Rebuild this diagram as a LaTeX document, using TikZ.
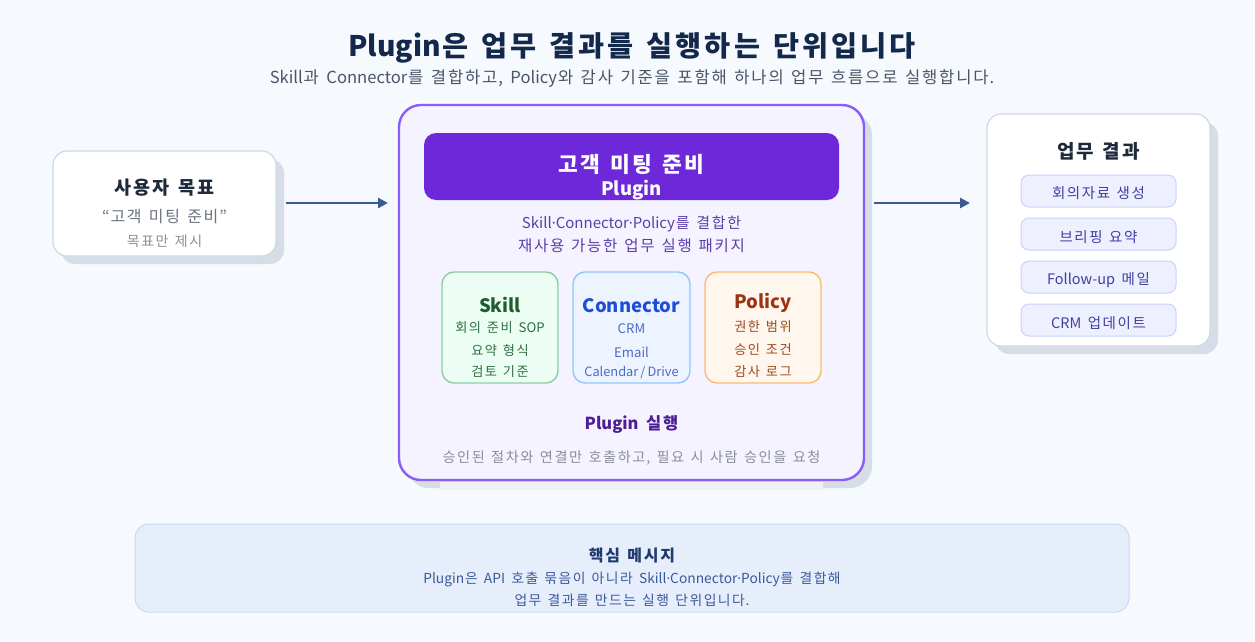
\documentclass[tikz,border=0pt]{standalone}
\usepackage{fontspec}
\setmainfont[WordSpace=2]{Noto Sans CJK KR}
\newfontfamily\latf{Noto Sans}
\newcommand\mdot{{\latf ·}}
% widen Hangul syllables slightly (reference font has wider Hangul)
\XeTeXinterchartokenstate=1
\newXeTeXintercharclass\hgcls
\count255="AC00
\loop
  \XeTeXcharclass\count255=\hgcls
  \ifnum\count255<"D7A3 \advance\count255 by 1
\repeat
\XeTeXinterchartoks\hgcls\hgcls={\kern0.11em}
\XeTeXinterchartoks\hgcls 0={\kern0.055em}
\XeTeXinterchartoks 0\hgcls={\kern0.055em}
\usetikzlibrary{arrows.meta}
\definecolor{bg}{HTML}{F6F9FE}
\definecolor{navy}{HTML}{13294B}
\definecolor{subgray}{HTML}{4A5568}
\definecolor{cardborder}{HTML}{D0D8E4}
\definecolor{shadowc}{HTML}{D6DDE7}
\definecolor{arrowc}{HTML}{3B5A8F}
\definecolor{purplefill}{HTML}{F5F3FF}
\definecolor{purpleborder}{HTML}{8B5CF6}
\definecolor{headerfill}{HTML}{6D28D9}
\definecolor{purpletext}{HTML}{5B3FA8}
\definecolor{darkpurple}{HTML}{4C1D95}
\definecolor{skillfill}{HTML}{ECFDF3}
\definecolor{skillborder}{HTML}{8ACFA2}
\definecolor{skilltitle}{HTML}{1F5E2E}
\definecolor{skilltext}{HTML}{2F6F42}
\definecolor{connfill}{HTML}{EEF4FF}
\definecolor{connborder}{HTML}{93C5FD}
\definecolor{conntitle}{HTML}{1D4ED8}
\definecolor{conntext}{HTML}{4B6BC9}
\definecolor{polfill}{HTML}{FFF7ED}
\definecolor{polborder}{HTML}{FDBA74}
\definecolor{poltitle}{HTML}{9A3412}
\definecolor{poltext}{HTML}{9A4A20}
\definecolor{pillfill}{HTML}{EEF0FF}
\definecolor{pillborder}{HTML}{C7D2FE}
\definecolor{pilltext}{HTML}{3F3FA0}
\definecolor{keyfill}{HTML}{E6EEFC}
\definecolor{keyborder}{HTML}{C8D8F5}
\definecolor{keytitle}{HTML}{1E3A6E}
\definecolor{keytext}{HTML}{3B5A9A}
\definecolor{grayt}{HTML}{6B7280}
\definecolor{lightgrayt}{HTML}{8A8F99}
\definecolor{darkt}{HTML}{1E293B}
\definecolor{gapc}{HTML}{EFF2F8}
\tikzset{
  card/.style={draw=cardborder, fill=white, line width=1.2pt, rounded corners=14pt},
  flow/.style={draw=arrowc, line width=2.6pt, -{Triangle[length=10pt,width=10pt]}},
  sub/.style={draw, line width=1.4pt, rounded corners=12pt},
  pill/.style={draw=pillborder, fill=pillfill, line width=1pt, rounded corners=8pt},
  txt/.style={inner sep=0pt, anchor=center},
}
\begin{document}
\begin{tikzpicture}[x=1pt,y=-1pt]
\fill[bg] (0,0) rectangle (1255,642);
\useasboundingbox (0,0) rectangle (1255,642);

% title
\node[txt, text=navy, font=\fontsize{28.3}{30}\selectfont\bfseries] (title) at (632,48) {Plugin은 업무 결과를 실행하는 단위입니다};
\node[txt, text=subgray, font=\fontsize{16.6}{19}\selectfont] (subtitle) at (632,79) {Skill과 Connector를 결합하고, Policy와 감사 기준을 포함해 하나의 업무 흐름으로 실행합니다.};

% left card
\fill[shadowc, rounded corners=14pt] (61,159) rectangle (284,264);
\draw[card] (53,151) rectangle (276,256);
\coordinate (leftE) at (286,203);
\node[txt, text=darkt, font=\fontsize{18.5}{21}\selectfont\bfseries] (goal) at (164.5,188) {사용자 목표};
\node[txt, text=grayt, font=\fontsize{16}{19}\selectfont] (goalq) at (164.5,217) {“고객 미팅 준비”};
\node[txt, text=lightgrayt, font=\fontsize{14}{16}\selectfont] (goaln) at (164.5,241) {목표만 제시};

% center card
\fill[shadowc, rounded corners=22pt] (407,113) rectangle (872,488);
\fill[gapc] (440,482) rectangle (823,490);
\draw[draw=purpleborder, fill=purplefill, line width=2.4pt, rounded corners=22pt] (399,105) rectangle (864,480);
\coordinate (centerW) at (388,203);
\coordinate (centerE) at (874,203);
\fill[headerfill, rounded corners=12pt] (424,133) rectangle (839,200);
\node[txt, text=white, font=\fontsize{21.5}{24}\selectfont\bfseries] (h1) at (631.5,164) {고객 미팅 준비};
\node[txt, text=white, font=\fontsize{18.5}{21}\selectfont\bfseries] (h2) at (631.5,190) {Plugin};
\node[txt, text=purpletext, font=\fontsize{15}{18}\selectfont] (d1) at (631.5,224) {Skill\mdot Connector\mdot Policy를 결합한};
\node[txt, text=purpletext, font=\fontsize{15.5}{18}\selectfont] (d2) at (631.5,246) {재사용 가능한 업무 실행 패키지};

% sub boxes
\draw[sub, draw=skillborder, fill=skillfill] (442,272) rectangle (558,383);
\node[txt, text=skilltitle, font=\fontsize{18.5}{21}\selectfont\bfseries] (sk) at (500,305) {Skill};
\node[txt, text=skilltext, font=\fontsize{13.2}{16}\selectfont] (sk1) at (500,328) {회의 준비 SOP};
\node[txt, text=skilltext, font=\fontsize{13.2}{16}\selectfont] (sk2) at (500,350) {요약 형식};
\node[txt, text=skilltext, font=\fontsize{13.2}{16}\selectfont] (sk3) at (500,372) {검토 기준};

\draw[sub, draw=connborder, fill=connfill] (573,272) rectangle (690,383);
\node[txt, text=conntitle, font=\fontsize{18.5}{21}\selectfont\bfseries] (cn) at (631.5,306) {Connector};
\node[txt, text=conntext, font=\fontsize{13.2}{16}\selectfont] (cn1) at (631.5,329) {CRM};
\node[txt, text=conntext, font=\fontsize{13.2}{16}\selectfont] (cn2) at (631.5,352) {Email};
\node[txt, text=conntext, font=\fontsize{12.8}{16}\selectfont] (cn3) at (631.5,373) {Calendar\,/\,Drive};

\draw[sub, draw=polborder, fill=polfill] (705,272) rectangle (821,383);
\node[txt, text=poltitle, font=\fontsize{18.5}{21}\selectfont\bfseries] (pl) at (763,303) {Policy};
\node[txt, text=poltext, font=\fontsize{13.2}{16}\selectfont] (pl1) at (763,327) {권한 범위};
\node[txt, text=poltext, font=\fontsize{13.2}{16}\selectfont] (pl2) at (763,350) {승인 조건};
\node[txt, text=poltext, font=\fontsize{13.2}{16}\selectfont] (pl3) at (763,372) {감사 로그};

\node[txt, text=darkpurple, font=\fontsize{16.5}{19}\selectfont\bfseries] (run) at (631.5,425) {Plugin 실행};
\node[txt, text=lightgrayt, font=\fontsize{14.2}{17}\selectfont] (runn) at (631.5,458) {승인된 절차와 연결만 호출하고, 필요 시 사람 승인을 요청};

% right card
\fill[shadowc, rounded corners=14pt] (995,122) rectangle (1218,354);
\draw[card] (987,114) rectangle (1210,346);
\coordinate (rightW) at (970,203);
\node[txt, text=darkt, font=\fontsize{19}{22}\selectfont\bfseries] (res) at (1098.5,151) {업무 결과};
\draw[pill] (1021,175) rectangle (1176,207);
\node[txt, text=pilltext, font=\fontsize{14.5}{17}\selectfont] (r1) at (1098.5,193) {회의자료 생성};
\draw[pill] (1021,218) rectangle (1176,250);
\node[txt, text=pilltext, font=\fontsize{14.5}{17}\selectfont] (r2) at (1098.5,237) {브리핑 요약};
\draw[pill] (1021,261) rectangle (1176,293);
\node[txt, text=pilltext, font=\fontsize{14.5}{17}\selectfont] (r3) at (1098.5,280) {Follow-up 메일};
\draw[pill] (1021,304) rectangle (1176,336);
\node[txt, text=pilltext, font=\fontsize{14.5}{17}\selectfont] (r4) at (1098.5,323) {CRM 업데이트};

% arrows
\draw[flow] (leftE) -- (centerW);
\draw[flow] (centerE) -- (rightW);

% key message
\draw[draw=keyborder, fill=keyfill, line width=1pt, rounded corners=14pt] (135,524) rectangle (1129,612);
\node[txt, text=keytitle, font=\fontsize{16}{18}\selectfont\bfseries] (k) at (632,556) {핵심 메시지};
\node[txt, text=keytext, font=\fontsize{13.8}{16}\selectfont] (k1) at (632,579) {Plugin은 API 호출 묶음이 아니라 Skill\mdot Connector\mdot Policy를 결합해};
\node[txt, text=keytext, font=\fontsize{13.8}{16}\selectfont] (k2) at (632,600) {업무 결과를 만드는 실행 단위입니다.};
\end{tikzpicture}
\end{document}
